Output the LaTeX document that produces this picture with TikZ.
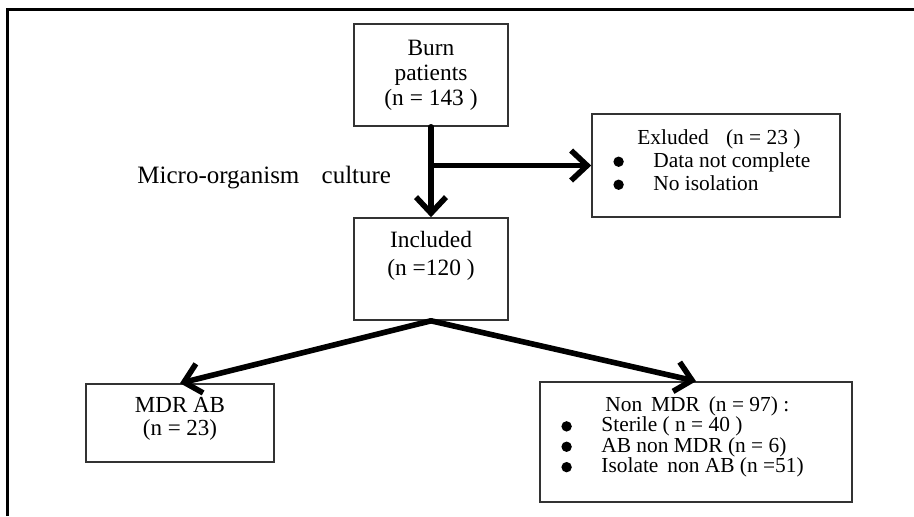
\documentclass[tikz,border=0pt]{standalone}
\usepackage{fontspec}
\setmainfont{Liberation Serif}
\usetikzlibrary{arrows.meta,calc}
\newcommand{\taille}[2]{\fontsize{#1}{#2}\selectfont}
\newcommand{\puce}{\makebox[20pt][l]{\tikz[baseline=-2.8pt,x=1pt,y=1pt]\fill (0,0) circle (2.6pt);}}

\begin{document}
\begin{tikzpicture}[x=0.5pt,y=-0.5pt,
	box/.style={draw=black!80,line width=0.8pt,inner sep=0pt},
	txt/.style={inner sep=0pt,align=center},
	arr/.style={line width=2.8pt,line cap=round,-{Straight Barb[length=8pt,width=15pt]}}]
	\useasboundingbox (0,0) rectangle (914,516);
	\draw[line width=1.5pt] (7,516) -- (7,9) -- (914,9);
	% boites
	\node[box,minimum width=77pt,minimum height=51pt] (burn) at (431,75) {};
	\node[txt,font=\taille{11.7}{12.5}] (burntxt) at (431,75) {Burn\\patients\\(n = 143 )};
	\node[box,minimum width=77pt,minimum height=51pt] (incl) at (431,269) {};
	\node[txt,font=\taille{11.7}{14}] (incltxt) at (431,256) {Included\\(n =120 )};
	\node[box,minimum width=124pt,minimum height=51.5pt] (excl) at (716,165.5) {};
	\node[txt,align=left,anchor=west,font=\taille{10.7}{11.5}] (excltxt) at (613,160)
		{\hspace*{12pt}Exluded\hspace{6pt} (n = 23 )\\\puce Data not complete\\\puce No isolation};
	\node[box,minimum width=94pt,minimum height=39pt] (mdr) at (180,423) {};
	\node[txt,font=\taille{11.5}{11.5}] (mdrtxt) at (180,419) {MDR AB\\(n = 23)};
	\node[box,minimum width=156pt,minimum height=60pt] (nonmdr) at (696,442) {};
	\node[txt,align=left,anchor=west,font=\taille{10.7}{10.2}] (nonmdrtxt) at (561,437)
		{\hspace*{22pt}Non\, MDR\, (n = 97) :\\\puce Sterile ( n = 40 )\\\puce AB non MDR (n = 6)\\\puce Isolate\, non AB (n =51)};
	\node[txt,anchor=west,font=\taille{12.5}{14}] (culture) at (137,178) {Micro-organism\hspace{8pt} culture};
	% fleches
	\coordinate (jct) at (burn.south |- excl.west);
	\draw[arr] (burn) -- (incl);
	\draw[arr] (jct) -- (excl);
	\draw[arr] (incl.south) -- (mdr.north);
	\draw[arr] (incl.south) -- (nonmdr.north);
\end{tikzpicture}
\end{document}
